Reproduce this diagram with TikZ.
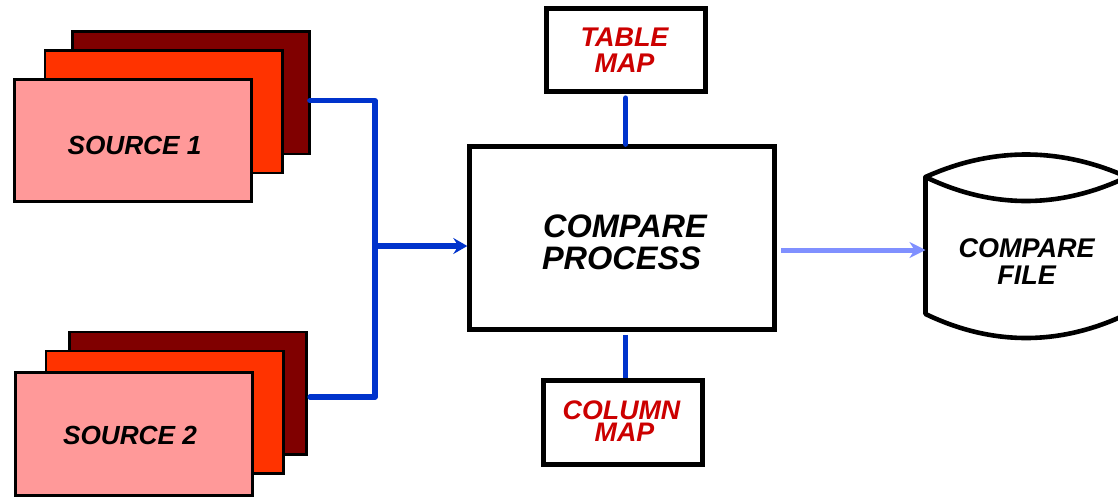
\documentclass[tikz,border=0pt]{standalone}
\usepackage{fontspec}
\setmainfont{Liberation Sans}
\usetikzlibrary{arrows.meta}
\definecolor{linkblue}{HTML}{0033CC}
\definecolor{lightblue}{HTML}{8090FF}
\definecolor{darkred}{HTML}{800000}
\definecolor{midred}{HTML}{FF3300}
\definecolor{pinkred}{HTML}{FF9999}
\definecolor{maptext}{HTML}{CC0000}
\tikzset{
  x=1pt,y=-1pt,
  sheet/.style={draw=black,line width=2.8pt,rectangle,inner sep=0pt,outer sep=0pt,minimum width=237.5pt,minimum height=122.5pt},
  backsheet/.style={sheet,fill=darkred},
  midsheet/.style={sheet,fill=midred},
  frontsheet/.style={sheet,fill=pinkred},
  lab/.style={font=\fontsize{26.2}{26.2}\selectfont\bfseries\itshape,align=center,inner sep=0pt},
  filelab/.style={font=\fontsize{27}{27}\selectfont\bfseries\itshape,align=center,inner sep=0pt},
  mainlab/.style={font=\fontsize{32.5}{32}\selectfont\bfseries\itshape,align=center,inner sep=0pt},
  tablab/.style={font=\fontsize{27}{26}\selectfont\bfseries\itshape,align=center,inner sep=0pt,text=maptext},
  collab/.style={font=\fontsize{26.8}{21.7}\selectfont\bfseries\itshape,align=center,inner sep=0pt,text=maptext},
  mapbox/.style={draw=black,line width=5pt,rectangle,inner sep=0pt,outer sep=0pt,fill=white},
  link/.style={draw=linkblue,line width=5.2pt},
  flow/.style={draw=lightblue,line width=5pt,-{Stealth[length=16pt,width=16pt,inset=5pt]}},
  cyl/.style={draw=black,line width=4.6pt,line join=round,line cap=round}
}
\begin{document}
\begin{tikzpicture}
\useasboundingbox (0,0) rectangle (1118,496);
% first stack
\node[backsheet] (s1back) at (191,92.7) {};
\node[midsheet] (s1mid) at (163.7,111.7) {};
\node[frontsheet,label={[lab,xshift=1.5pt,yshift=-4.5pt]center:SOURCE 1}] (s1front) at (133,140.5) {};
% second stack
\node[backsheet] (s2back) at (188,393.3) {};
\node[midsheet] (s2mid) at (164.7,412.3) {};
\node[frontsheet,label={[lab,xshift=-4pt,yshift=-1.5pt]center:SOURCE 2}] (s2front) at (134,434) {};
% main process
\node[draw=black,line width=5pt,fill=white,inner sep=0pt,outer sep=0pt,minimum width=304.4pt,minimum height=183pt,
  label={[mainlab,xshift=3pt,yshift=-4pt]center:COMPARE\\PROCESS\hspace*{7pt}}] (main) at (622,238) {};
% maps
\node[mapbox,minimum width=159pt,minimum height=83.6pt,label={[tablab,xshift=-1.2pt,yshift=-0.5pt]center:TABLE\\MAP}] (tmap) at (625.7,50) {};
\node[mapbox,minimum width=159.6pt,minimum height=84pt,label={[collab,xshift=-1.5pt,yshift=1.5pt]center:COLUMN\\\hspace*{6pt}MAP}] (cmap) at (623,422.8) {};
% cylinder
\coordinate (cylTL) at (925.5,177);
\coordinate (cylTR) at (1127,177);
\coordinate (cylBL) at (925.5,314);
\coordinate (cylBR) at (1127,314);
\draw[cyl,fill=white] (cylTL) .. controls (992,147) and (1060,147) .. (cylTR)
  -- (cylBR) .. controls (1060,346) and (992,346) .. (cylBL) -- cycle;
\draw[cyl] (cylTL) .. controls (992,209) and (1060,209) .. (cylTR);
\node[filelab] (cfile) at (1026.5,261.5) {COMPARE\\FILE};
% connectors
\coordinate (j1) at (375,100.7);
\coordinate (j2) at (375,397);
\coordinate (j3) at (375,246);
\draw[link,line cap=round,line join=round,shorten >=3.2pt] (s1back.east |- j1) -- (j1) -- (j2) -- (s2back.east |- j2);
\draw[link,shorten >=2.5pt,-{Stealth[length=14pt,width=16pt,inset=5pt]}] (j3) -- (main.west |- j3);
\draw[link,line cap=round,shorten <=6.2pt,shorten >=2.2pt] (tmap.south) -- (tmap.south |- main.north);
\draw[link,shorten <=5.3pt,shorten >=2.8pt] (main.south -| tmap.south) -- (cmap.north -| tmap.south);
\coordinate (flowstart) at (781,250);
\draw[flow] (flowstart) -- (cylTL |- flowstart);
\end{tikzpicture}
\end{document}
